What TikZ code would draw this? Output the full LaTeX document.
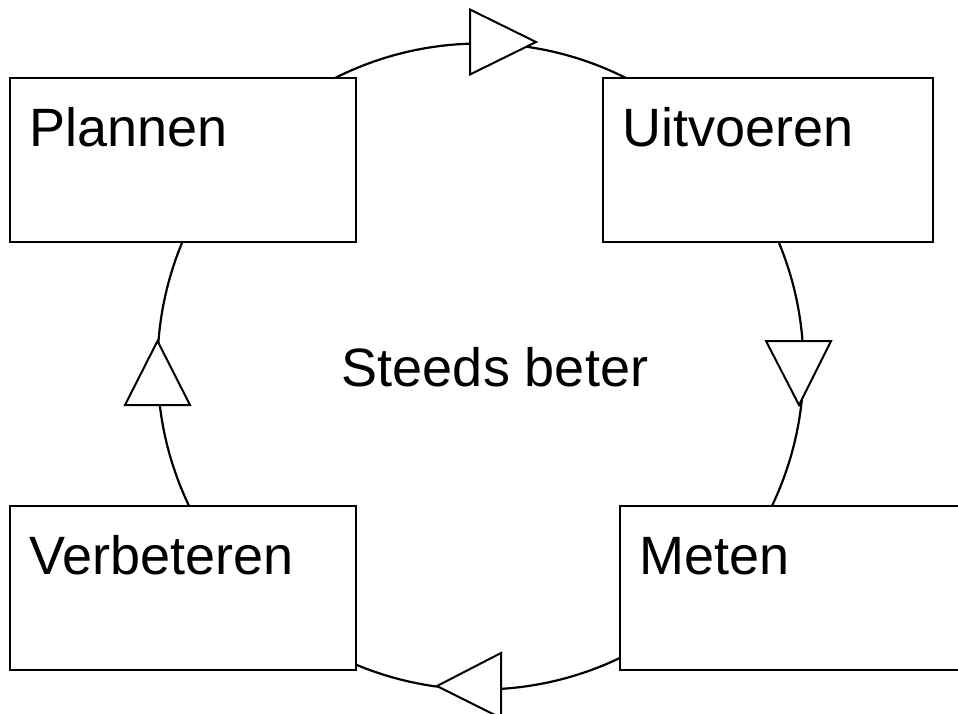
\documentclass[tikz,border=0pt]{standalone}
\usepackage{fontspec}
\setmainfont{Liberation Sans}
\usepackage{tikz}

\tikzset{
    vak/.style={draw, fill=white, line width=1pt, anchor=north west,
                inner xsep=9.5pt, inner ysep=0pt, text height=34.2pt, text depth=48pt,
                align=left, font=\fontsize{27}{30}\selectfont},
    pijl/.style={draw, fill=white, line width=1pt, line join=miter}
}

\begin{document}
\begin{tikzpicture}[x=0.5pt,y=-0.5pt]
\useasboundingbox (0,0) rectangle (958,713);
\clip (0,0) rectangle (958,713);

%-------------------------------------------- Cycle
\draw[line width=1.1pt] (480.5,366.5) circle[radius=161.5pt];   % the circle behind the boxes
\node[font=\fontsize{27}{30}\selectfont, anchor=base] (midden) at (495,386.7) {Steeds beter};

%-------------------------------------------- Boxes
\node[vak, text width=153.85pt] (plannen)    at (9.3,76.7)  {Plannen};
\node[vak, text width=145.7pt]  (uitvoeren)  at (602.3,76.7) {Uitvoeren};
\node[vak, text width=154pt]    (verbeteren) at (9.3,505)   {Verbeteren};
\node[vak, text width=190pt]    (meten)      at (619.3,505) {Meten};

%-------------------------------------------- Arrow heads on the circle
\draw[pijl] (470,9.5) -- (470,74.5) -- (536,42) -- cycle;     % top, to the right
\draw[pijl] (766,341) -- (831,341) -- (799,405) -- cycle;     % right, downwards
\draw[pijl] (501,653) -- (501,718) -- (437,686) -- cycle;     % bottom, to the left
\draw[pijl] (125,405) -- (190,405) -- (157.5,341) -- cycle;   % left, upwards

\end{tikzpicture}
\end{document}
